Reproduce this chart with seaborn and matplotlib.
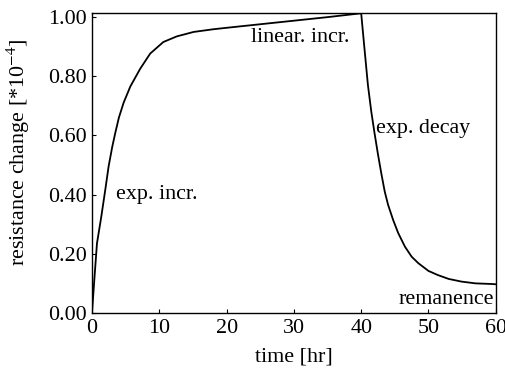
import matplotlib
matplotlib.use("Agg")
import matplotlib.pyplot as plt
import seaborn as sns
import pandas as pd

# values
time_hr = [0.0, 0.37, 0.74, 1.38, 2.0, 2.47, 3.0, 3.46, 4.0, 4.7, 5.7, 7.17, 8.65, 10.6, 12.6, 15.1,
           18.0, 20.0, 25.0, 30.0, 35.0, 40.0,
           40.5, 41.0, 41.5, 42.0, 42.5, 43.0, 43.5, 44.0, 44.75, 45.5, 46.5, 47.5, 48.5,
           50.0, 51.4, 53.0, 54.9, 57.0, 59.3, 60.0]
resistance = [0.0, 0.12, 0.235, 0.325, 0.42, 0.495, 0.56, 0.608, 0.66, 0.71, 0.765, 0.825, 0.876, 0.915, 0.934, 0.949,
              0.958, 0.963, 0.975, 0.987, 0.999, 1.012,
              0.89, 0.77, 0.68, 0.605, 0.535, 0.47, 0.41, 0.365, 0.314, 0.27, 0.224, 0.19, 0.168,
              0.142, 0.128, 0.115, 0.106, 0.100, 0.098, 0.097]

x_ticks = [0, 10, 20, 30, 40, 50, 60]
y_ticks = [0.0, 0.2, 0.4, 0.6, 0.8, 1.0]
y_tick_labels = ["0.00", "0.20", "0.40", "0.60", "0.80", "1.00"]

annotations = ["exp. incr.", "linear. incr.", "exp. decay", "remanence"]
ann_x = [3.6, 23.7, 42.2, 59.7]
ann_y = [0.40, 0.93, 0.623, 0.044]
ann_ha = ["left", "left", "left", "right"]

df = pd.DataFrame({"time": time_hr, "res": resistance})

sns.set_style("ticks")
plt.rcParams["font.family"] = ["Liberation Serif", "DejaVu Serif"]
plt.rcParams["mathtext.fontset"] = "stix"

FS = 15.8

fig = plt.figure(figsize=(5.06, 3.69), dpi=100)
ax = fig.add_axes([0.1818, 0.1518, 0.798, 0.813])
sns.lineplot(data=df, x="time", y="res", ax=ax, color="black", linewidth=1.3)

ax.set_xlim(0, 60)
ax.set_ylim(0, 1.013)
ax.set_xticks(x_ticks)
ax.set_xticklabels([str(v) for v in x_ticks])
ax.set_yticks(y_ticks)
ax.set_yticklabels(y_tick_labels)
ax.tick_params(direction="in", length=3, width=0.8, labelsize=FS, pad=4, colors="black")
for s in ax.spines.values():
    s.set_visible(True)
    s.set_linewidth(1.0)
    s.set_color("black")

ax.set_xlabel("time [hr]", fontsize=FS, labelpad=7, color="black")
ax.set_ylabel("resistance change [*10$^{-4}$]", fontsize=FS, color="black")
ax.yaxis.set_label_coords(-0.1485, 0.535)

for t, x, y, ha in zip(annotations, ann_x, ann_y, ann_ha):
    ax.text(x, y, t, ha=ha, va="center", fontsize=FS, color="black")

fig.savefig("out.png", dpi=100)
